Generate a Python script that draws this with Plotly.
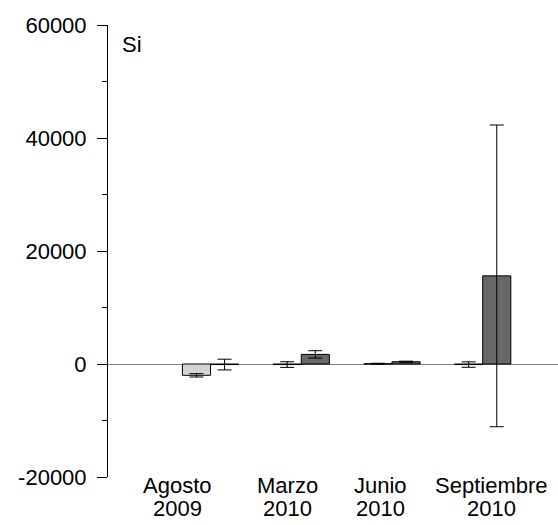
import plotly.graph_objects as go

cat_line1 = ["Agosto", "Marzo", "Junio", "Septiembre"]
cat_line2 = ["2009", "2010", "2010", "2010"]
series_light = [-2000, -100, 50, -100]
err_light = [300, 500, 80, 480]
series_dark = [-100, 1700, 400, 15600]
err_dark = [950, 650, 100, 26700]
y_tickvals = [-20000, 0, 20000, 40000, 60000]

xpos = list(range(len(cat_line1)))
label_shift = [-0.36, -0.15, -0.13, 0.10]

fig = go.Figure()
fig.add_trace(go.Bar(
    x=xpos, y=series_light,
    marker=dict(color="#d4d4d4", line=dict(color="black", width=1)),
    error_y=dict(type="data", array=err_light, color="black", thickness=1, width=7),
    showlegend=False,
))
fig.add_trace(go.Bar(
    x=xpos, y=series_dark,
    marker=dict(color="#686868", line=dict(color="black", width=1)),
    error_y=dict(type="data", array=err_dark, color="black", thickness=1, width=7),
    showlegend=False,
))

annotations = [dict(
    text="Si", xref="paper", yref="paper", x=0.026, y=0.99,
    xanchor="left", yanchor="top", showarrow=False, font=dict(size=22),
)]
for p, s, l1, l2 in zip(xpos, label_shift, cat_line1, cat_line2):
    annotations.append(dict(text=l1, x=p + s, xref="x", y=0, yref="paper",
                            yanchor="top", xanchor="center", yshift=6, showarrow=False,
                            font=dict(size=22)))
    annotations.append(dict(text=l2, x=p + s, xref="x", y=0, yref="paper",
                            yanchor="top", xanchor="center", yshift=-17, showarrow=False,
                            font=dict(size=22)))

fig.update_layout(
    width=558, height=525,
    margin=dict(l=108, r=0, t=25, b=48),
    plot_bgcolor="white", paper_bgcolor="white",
    barmode="group", bargap=0.38, bargroupgap=0,
    font=dict(family="Liberation Sans, Arial, sans-serif", size=22, color="black"),
    xaxis=dict(
        range=[-1.13, 3.83],
        showticklabels=False,
        showline=False, showgrid=False, zeroline=False, ticks="",
    ),
    yaxis=dict(
        range=[-20000, 60000],
        tickvals=y_tickvals,
        ticktext=[str(v) for v in y_tickvals],
        showline=True, linecolor="black", linewidth=1,
        ticks="outside", ticklen=10, tickcolor="black", tickwidth=1,
        minor=dict(dtick=10000, ticks="outside", ticklen=5, tickcolor="black", tickwidth=1, showgrid=False),
        showgrid=False,
        zeroline=True, zerolinecolor="#808080", zerolinewidth=1,
        tickfont=dict(size=22),
        ticklabelstandoff=6,
    ),
    annotations=annotations,
)

fig.write_html("out.html")
